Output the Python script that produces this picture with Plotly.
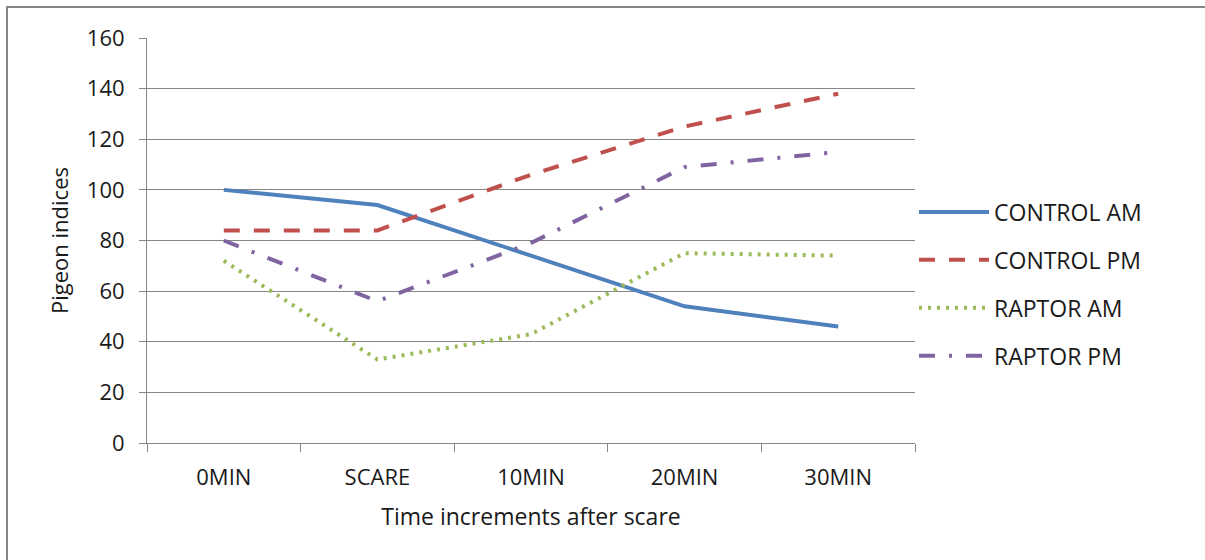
import plotly.graph_objects as go

categories = ["0MIN", "SCARE", "10MIN", "20MIN", "30MIN"]
control_am = [100, 94, 74, 54, 46]
control_pm = [84, 84, 106, 125, 138]
raptor_am = [72, 33, 43, 75, 74]
raptor_pm = [80, 56, 79, 109, 115]

series = [
    ("CONTROL AM", control_am, "#4F81BD", "solid"),
    ("CONTROL PM", control_pm, "#C0504D", "16px,14px"),
    ("RAPTOR AM", raptor_am, "#9BBB59", "3px,6px"),
    ("RAPTOR PM", raptor_pm, "#8064A2", "16px,14px,3px,14px"),
]

FONT = "Open Sans, Lato, sans-serif"
TXT = "#1a1a1a"

fig = go.Figure()
for i, (name, vals, color, dash) in enumerate(series):
    fig.add_trace(go.Scatter(
        x=categories, y=vals, name=name, mode="lines",
        line=dict(color=color, width=4, dash=dash),
        legendgroup=f"g{i}",
    ))

fig.update_layout(
    width=1205, height=560,
    margin=dict(l=147, r=290, t=38, b=117),
    paper_bgcolor="white", plot_bgcolor="white",
    font=dict(family=FONT, size=22, color=TXT),
    showlegend=True,
    legend=dict(x=(914 - 147) / 768, y=(443 - 284) / 405, xanchor="left", yanchor="middle",
                font=dict(family=FONT, size=23, color=TXT),
                tracegroupgap=15, itemwidth=70, bgcolor="rgba(0,0,0,0)"),
    xaxis=dict(
        type="category", tickson="boundaries", ticks="outside", ticklen=8,
        tickcolor="#868686", showline=True, linecolor="#868686", linewidth=1,
        showgrid=False, range=[-0.5, 4.5], ticklabelstandoff=15,
        title=dict(text="Time increments after scare", standoff=18,
                   font=dict(family=FONT, size=23, color=TXT)),
        tickfont=dict(family=FONT, size=22, color=TXT),
    ),
    yaxis=dict(
        range=[0, 160], dtick=20, ticks="outside", ticklen=7,
        tickcolor="#868686", showline=True, linecolor="#868686", linewidth=1,
        showgrid=True, gridcolor="#868686", gridwidth=1, zeroline=False,
        ticklabelstandoff=10,
        title=dict(text="Pigeon indices", standoff=12,
                   font=dict(family=FONT, size=22, color=TXT)),
        tickfont=dict(family=FONT, size=22, color=TXT),
    ),
)

fig.add_shape(type="rect", xref="paper", yref="paper",
              x0=(7 - 147) / 768, x1=(1210 - 147) / 768,
              y0=(443 - 570) / 405, y1=(443 - 7) / 405,
              line=dict(color="#868686", width=2), fillcolor="rgba(0,0,0,0)",
              layer="below")

fig.write_html("out.html")
